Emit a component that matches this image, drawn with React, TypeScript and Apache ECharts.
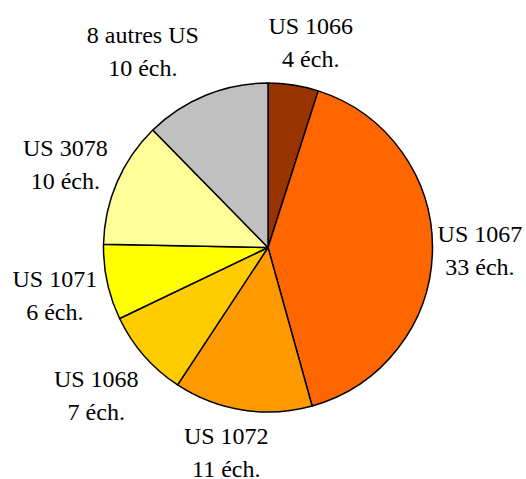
import React, { useEffect, useRef } from "react";
import * as echarts from "echarts";

const categories = ["US 1066", "US 1067", "US 1072", "US 1068", "US 1071", "US 3078", "8 autres US"];
const counts = [4, 33, 11, 7, 6, 10, 10];
const colors = ["#993300", "#FF6600", "#FF9900", "#FFCC00", "#FFFF00", "#FFFF99", "#C0C0C0"];
// label nudges (px) relative to a point placed radially out from the slice middle
const labelNudges: [number, number][] = [
  [10, 4],
  [0, -1],
  [-9, -4],
  [-12, 9],
  [-6, 3],
  [-8, 1],
  [-45, 0],
];

const CX = 268;
const CY = 247.5;
const R = 164.5;
const LABEL_DIST = 212;
const FONT = "Times New Roman";

export default function App() {
  const ref = useRef<HTMLDivElement>(null);
  useEffect(() => {
    if (!ref.current) return;
    const chart = echarts.init(ref.current, null, { renderer: "svg" });
    const total = counts.reduce((a, b) => a + b, 0);
    let cum = 0;
    const mids = counts.map((v) => {
      const m = ((cum + v / 2) / total) * 2 * Math.PI;
      cum += v;
      return m;
    });
    chart.setOption({
      animation: false,
      backgroundColor: "#ffffff",
      series: [
        {
          type: "pie",
          center: [CX, CY],
          radius: R,
          startAngle: 90,
          clockwise: true,
          silent: true,
          avoidLabelOverlap: false,
          data: categories.map((name, i) => ({
            name,
            value: counts[i],
            itemStyle: { color: colors[i] },
          })),
          itemStyle: { borderColor: "#000000", borderWidth: 1.5 },
          label: {
            show: true,
            position: "outside",
            formatter: "{b}\n{c} éch.",
            fontFamily: FONT,
            fontSize: 24,
            lineHeight: 33,
            color: "#000000",
            align: "center",
          },
          labelLine: { show: false },
          labelLayout: (params: any) => {
            const i = params.dataIndex;
            const a = mids[i];
            const x = CX + LABEL_DIST * Math.sin(a) + labelNudges[i][0];
            const y = CY - LABEL_DIST * Math.cos(a) + labelNudges[i][1];
            return { x, y, align: "center", verticalAlign: "middle" };
          },
          emphasis: { disabled: true },
        },
      ],
    });
    return () => chart.dispose();
  }, []);
  return (
    <div
      ref={ref}
      style={{ position: "absolute", left: 0, top: 0, width: 526, height: 479 }}
    />
  );
}
